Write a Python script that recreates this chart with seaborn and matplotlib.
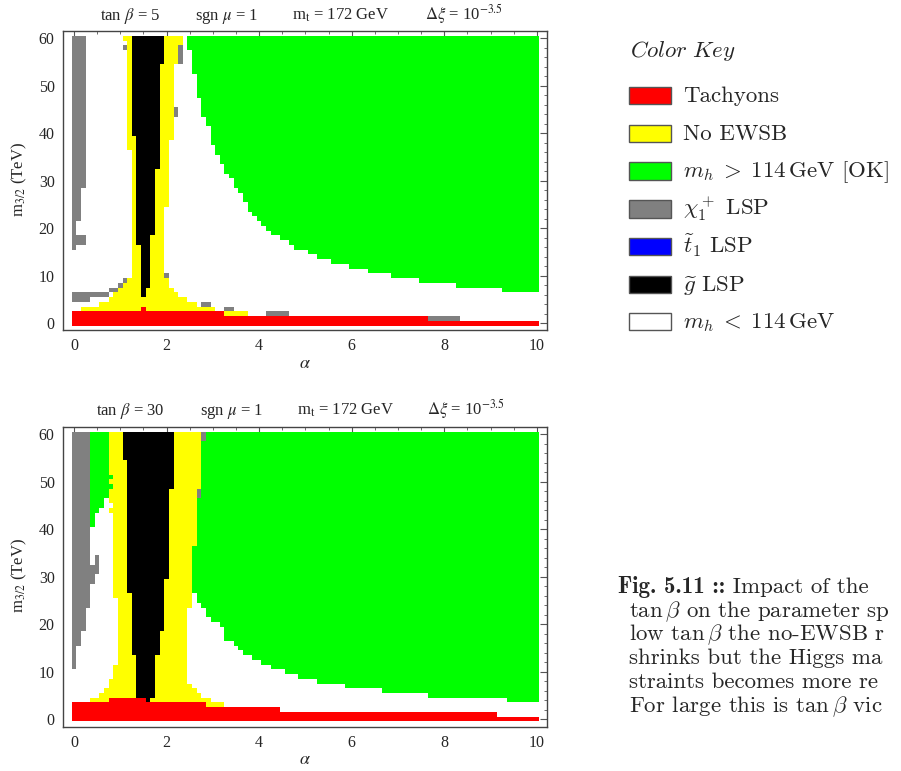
import numpy as np
import pandas as pd
import matplotlib
matplotlib.use("Agg")
import matplotlib.pyplot as plt
import seaborn as sns
from matplotlib.colors import ListedColormap
from matplotlib.patches import Rectangle

# ---------------- scan grid ----------------
alpha_values = np.round(np.arange(0, 101) / 10.0, 1)   # alpha = 0.0 ... 10.0
m_values = np.arange(0, 61)                             # m_3/2 = 0 ... 60 TeV

categories = ["m_h < 114 GeV", "Tachyons", "No EWSB", "m_h > 114 GeV [OK]",
              "chi1+ LSP", "t1 LSP", "gluino LSP"]
colors = ["#FFFFFF", "#FF0000", "#FFFF00", "#00FF00", "#808080", "#0000FF", "#000000"]

# ---------------- tan beta = 5 ----------------
tb5_green_alpha = [2.5, 2.6, 2.7, 2.8, 2.9, 3.0, 3.1, 3.2, 3.3, 3.4, 3.5, 3.6, 3.7, 3.8,
                   3.9, 4.0, 4.1, 4.2, 4.3, 4.5, 4.7, 4.8, 5.1, 5.3, 5.6, 6.0, 6.4, 6.9,
                   7.5, 8.3, 9.3]
tb5_green_mmin = [58, 53, 48, 44, 42, 38, 36, 34, 32, 31, 29, 28, 26, 24,
                  23, 22, 21, 20, 19, 18, 17, 16, 15, 14, 13, 12, 11, 10,
                  9, 8, 7]
# (alpha_lo, alpha_hi, m_lo, m_hi)
tb5_yellow = [(1.2, 2.3, 59, 60), (1.1, 1.1, 60, 60), (1.2, 2.2, 55, 58), (1.2, 2.1, 39, 54),
              (1.2, 2.0, 37, 38), (1.3, 2.0, 25, 36), (1.3, 1.9, 10, 24), (1.2, 2.0, 9, 9),
              (1.1, 2.0, 8, 8), (1.0, 2.1, 7, 7), (0.9, 2.2, 6, 6), (0.8, 2.4, 5, 5),
              (0.6, 2.6, 4, 4), (0.2, 3.0, 3, 3), (3.3, 3.7, 2, 2)]
tb5_black = [(1.3, 1.9, 55, 60), (1.3, 1.8, 40, 54), (1.4, 1.8, 33, 39), (1.4, 1.7, 19, 32),
             (1.4, 1.6, 17, 18), (1.5, 1.6, 8, 16), (1.5, 1.5, 6, 7)]
tb5_gray = [(0.0, 0.2, 29, 60), (0.0, 0.1, 22, 28), (0.0, 0.0, 19, 21), (0.0, 0.2, 17, 18),
            (0.0, 0.0, 16, 16), (0.0, 0.7, 6, 6), (0.0, 0.3, 5, 5), (0.8, 0.9, 7, 7),
            (1.0, 1.0, 8, 8), (1.1, 1.1, 9, 9), (2.0, 2.0, 10, 10), (2.8, 2.9, 4, 4),
            (3.3, 3.4, 3, 3), (4.2, 4.6, 2, 2), (7.7, 8.3, 1, 1), (1.1, 1.1, 58, 58),
            (2.3, 2.3, 55, 58), (2.2, 2.2, 44, 45)]
tb5_red = [(0.0, 3.2, 0, 2), (3.3, 7.6, 0, 1), (7.7, 10.0, 0, 0), (1.5, 1.5, 3, 3)]

# ---------------- tan beta = 30 ----------------
tb30_green_alpha = [2.6, 2.7, 2.8, 2.9, 3.0, 3.2, 3.3, 3.5, 3.6, 3.7, 3.9, 4.1, 4.3, 4.6,
                    4.9, 5.3, 5.9, 6.7, 7.7, 9.4]
tb30_green_mmin = [27, 25, 24, 22, 21, 20, 17, 16, 15, 14, 13, 12, 11, 10,
                   9, 8, 7, 6, 5, 4]
tb30_green_pocket = [(0.4, 0.4, 41, 60), (0.5, 0.5, 44, 60), (0.6, 0.6, 45, 60),
                     (0.7, 0.7, 47, 60), (0.8, 0.8, 51, 51), (0.8, 0.8, 49, 49)]
tb30_yellow = [(0.8, 2.7, 52, 60), (0.9, 2.7, 51, 51), (0.8, 2.7, 50, 50), (0.9, 2.7, 49, 49),
               (0.8, 2.6, 46, 48), (0.9, 2.6, 45, 45), (0.8, 2.6, 44, 44), (0.9, 2.6, 37, 43),
               (0.9, 2.5, 26, 36), (1.0, 2.5, 24, 25), (1.0, 2.4, 12, 23), (0.9, 2.4, 9, 11),
               (0.8, 2.4, 8, 8), (0.8, 2.5, 7, 7), (0.7, 2.6, 6, 6), (0.6, 2.7, 5, 5),
               (0.4, 2.9, 4, 4), (2.9, 3.2, 3, 3)]
tb30_black = [(1.1, 2.1, 55, 60), (1.2, 2.1, 49, 54), (1.2, 2.0, 30, 48), (1.2, 1.9, 27, 29),
              (1.3, 1.9, 19, 26), (1.3, 1.8, 14, 18), (1.4, 1.7, 5, 13), (1.6, 1.6, 4, 4)]
tb30_gray = [(0.0, 0.3, 33, 60), (0.5, 0.5, 33, 34), (0.0, 0.5, 31, 32), (0.0, 0.4, 29, 30),
             (0.0, 0.3, 24, 28), (0.0, 0.2, 19, 23), (0.0, 0.1, 16, 18), (0.0, 0.0, 11, 15),
             (2.8, 2.8, 59, 60), (2.7, 2.7, 47, 48)]
tb30_red = [(0.0, 0.7, 0, 3), (0.8, 1.5, 0, 4), (1.6, 2.8, 0, 3), (2.9, 4.4, 0, 2),
            (4.5, 9.1, 0, 1), (9.2, 10.0, 0, 0)]

x_major = [0, 2, 4, 6, 8, 10]
y_major = [0, 10, 20, 30, 40, 50, 60]

legend_labels = ["Tachyons", "No EWSB", r"$m_h\;>\;114\,\mathrm{GeV}$ [OK]",
                 r"$\chi_1^+$ LSP", r"$\widetilde{t}_1$ LSP", r"$\widetilde{g}$ LSP",
                 r"$m_h\;<\;114\,\mathrm{GeV}$"]
legend_colors = ["#FF0000", "#FFFF00", "#00FF00", "#808080", "#0000FF", "#000000", "#FFFFFF"]

# caption as visible in the reference (cut at the page edge)
caption_bold = "Fig. 5.11 ::"
caption_lines = [" Impact of the",
                 r"$\tan\beta$ on the parameter sp",
                 r"low $\tan\beta$ the no-EWSB r",
                 "shrinks but the Higgs ma",
                 "straints becomes more re",
                 r"For large this is $\tan\beta$ vic"]

# ---------------- build ----------------
def build_grid(green_alpha, green_mmin, layers):
    grid = np.zeros((len(m_values), len(alpha_values)), dtype=int)
    ks = [int(round(a * 10)) for a in green_alpha] + [len(alpha_values)]
    for i, mm in enumerate(green_mmin):
        grid[mm:, ks[i]:ks[i + 1]] = 3
    for code, rects in layers:
        for a0, a1, m0, m1 in rects:
            grid[m0:m1 + 1, int(round(a0 * 10)):int(round(a1 * 10)) + 1] = code
    return pd.DataFrame(grid, index=m_values, columns=alpha_values)


df5 = build_grid(tb5_green_alpha, tb5_green_mmin,
                 [(2, tb5_yellow), (6, tb5_black), (4, tb5_gray), (1, tb5_red)])
df30 = build_grid(tb30_green_alpha, tb30_green_mmin,
                  [(3, tb30_green_pocket), (2, tb30_yellow), (6, tb30_black),
                   (4, tb30_gray), (1, tb30_red)])

sns.set_style("white")
plt.rcParams["font.family"] = ["Liberation Serif", "DejaVu Serif"]
plt.rcParams["mathtext.fontset"] = "stix"

W, H = 901, 771
fig = plt.figure(figsize=(W / 100, H / 100), dpi=100)
cmap = ListedColormap(colors)

def fx(px):
    return px / W

def fy(py):
    return 1 - py / H

def draw_panel(ax, df, tanb, title_x, title_base, ylab_center, xlab_y, ylim):
    sns.heatmap(df, ax=ax, cmap=cmap, vmin=-0.5, vmax=6.5, cbar=False,
                xticklabels=False, yticklabels=False, linewidths=0, antialiased=False)
    ax.set_xlim(-1.88, 102.7)
    ax.set_ylim(*ylim)
    ax.set_xticks([10 * a + 0.5 for a in x_major])
    ax.set_xticklabels([str(a) for a in x_major])
    ax.set_xticks([5 * j + 0.5 for j in range(21)], minor=True)
    ax.set_yticks([m + 0.5 for m in y_major])
    ax.set_yticklabels([str(m) for m in y_major], rotation=0)
    ax.set_yticks([m + 0.5 for m in range(0, 61, 2)], minor=True)
    ax.tick_params(which="both", direction="in", top=True, right=True,
                   color="#555555", labelsize=11.5, pad=6)
    ax.tick_params(which="major", length=5, width=0.8)
    ax.tick_params(which="minor", length=2.5, width=0.6)
    ax.set_xlabel("")
    ax.set_ylabel("")
    for s in ax.spines.values():
        s.set_visible(True)
        s.set_linewidth(1.0)
        s.set_color("#444444")
    parts = [r"tan $\beta$ = %d" % tanb, r"sgn $\mu$ = 1", r"m$_{\rm t}$ = 172 GeV",
             r"$\Delta\xi$ = 10$^{-3.5}$"]
    for txt, x in zip(parts, title_x):
        fig.text(fx(x), fy(title_base), txt, ha="left", va="baseline", fontsize=12)
    fig.text(fx(19), fy(ylab_center), r"m$_{3/2}$ (TeV)", rotation=90,
             ha="center", va="center", fontsize=12)
    fig.text(fx(305), fy(xlab_y), r"$\alpha$", ha="center", va="center", fontsize=13)


ax1 = fig.add_axes([fx(63), fy(330), fx(484), 299 / H])
ax2 = fig.add_axes([fx(63), fy(726.7), fx(484), 300 / H])
draw_panel(ax1, df5, 5, [100, 195, 292, 425], 20, 180, 364, (-0.9, 62.0))
draw_panel(ax2, df30, 30, [96, 200, 297, 427], 415, 576, 760, (-1.1, 62.1))

# ---------------- color key ----------------
fig.text(fx(630), fy(57), r"$\mathit{Color\ Key}$", ha="left", va="baseline",
         fontsize=16.5, math_fontfamily="cm")
row_centers = [95.7, 133.3, 171.0, 209.0, 246.7, 284.3, 321.7]
for lab, col, yc in zip(legend_labels, legend_colors, row_centers):
    fig.patches.append(Rectangle((fx(629), fy(yc + 8.5)), 42 / W, 17 / H,
                                 transform=fig.transFigure, facecolor=col,
                                 edgecolor="#555555", linewidth=1.0))
    fig.text(fx(683), fy(yc + 6.5), lab, ha="left", va="baseline", fontsize=16.5,
             family=["cmr10", "DejaVu Serif"], math_fontfamily="cm")

# ---------------- caption ----------------
cap_base = [593, 617, 640, 664, 688, 712]
cap_x = [618, 629, 629, 629, 629, 629]
bold = fig.text(fx(618), fy(cap_base[0]), caption_bold, ha="left", va="baseline",
                fontsize=16.5, family=["cmb10", "DejaVu Serif"])
fig.canvas.draw()
bold_end = bold.get_window_extent(fig.canvas.get_renderer()).x1
cap_x[0] = bold_end
for line, x, yb in zip(caption_lines, cap_x, cap_base):
    fig.text(fx(x), fy(yb), line, ha="left", va="baseline", fontsize=16.5,
             family=["cmr10", "DejaVu Serif"], math_fontfamily="cm")

fig.savefig("out.png", dpi=100)
